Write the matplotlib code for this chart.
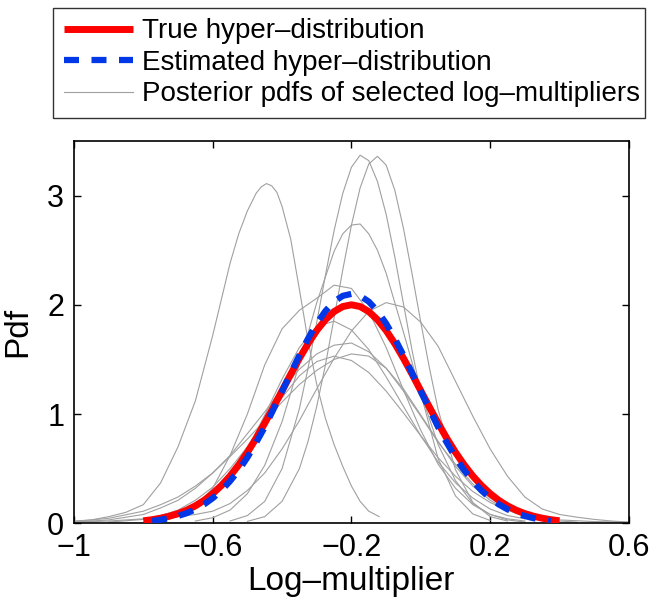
import matplotlib
matplotlib.use("Agg")
import matplotlib.pyplot as plt

plt.rcParams["font.family"] = ["Liberation Sans", "DejaVu Sans"]

# True hyper-distribution
true_x = [-0.8, -0.775, -0.75, -0.725, -0.7, -0.675, -0.65, -0.625, -0.6, -0.575, -0.55,
          -0.525, -0.5, -0.475, -0.45, -0.425, -0.4, -0.375, -0.35, -0.325, -0.3, -0.275,
          -0.25, -0.225, -0.2, -0.175, -0.15, -0.125, -0.1, -0.075, -0.05, -0.025, 0.0,
          0.025, 0.05, 0.075, 0.1, 0.125, 0.15, 0.175, 0.2, 0.225, 0.25, 0.275, 0.3,
          0.325, 0.35, 0.375, 0.4]
true_y = [0.022, 0.032, 0.046, 0.064, 0.088, 0.119, 0.159, 0.209, 0.271, 0.345, 0.432,
          0.534, 0.649, 0.777, 0.916, 1.062, 1.213, 1.364, 1.510, 1.645, 1.765, 1.864,
          1.938, 1.984, 2.0, 1.984, 1.938, 1.864, 1.765, 1.645, 1.510, 1.364, 1.213,
          1.062, 0.916, 0.777, 0.649, 0.534, 0.432, 0.345, 0.271, 0.209, 0.159, 0.119, 0.088,
          0.064, 0.046, 0.032, 0.022]

# Estimated hyper-distribution
est_x = [-0.775, -0.75, -0.725, -0.7, -0.675, -0.65, -0.625, -0.6, -0.575, -0.55, -0.525,
         -0.5, -0.475, -0.45, -0.425, -0.4, -0.375, -0.35, -0.325, -0.3, -0.275, -0.25,
         -0.225, -0.2, -0.175, -0.15, -0.125, -0.1, -0.075, -0.05, -0.025, 0.0, 0.025,
         0.05, 0.075, 0.1, 0.125, 0.15, 0.175, 0.2, 0.225, 0.25, 0.275, 0.3, 0.325, 0.35,
         0.375]
est_y = [0.021, 0.032, 0.046, 0.066, 0.092, 0.127, 0.172, 0.229, 0.299, 0.385, 0.485,
         0.602, 0.737, 0.880, 1.042, 1.207, 1.374, 1.538, 1.691, 1.829, 1.943, 2.029,
         2.082, 2.100, 2.082, 2.029, 1.943, 1.829, 1.691, 1.538, 1.374, 1.207, 1.042,
         0.880, 0.737, 0.602, 0.485, 0.385, 0.299, 0.229, 0.172, 0.127, 0.092, 0.066,
         0.046, 0.032, 0.021]

# Posterior pdfs of selected log-multipliers
post_a_x = [-1.0, -0.95, -0.9, -0.85, -0.8, -0.75, -0.7, -0.65, -0.6, -0.575, -0.55, -0.525,
            -0.5, -0.475, -0.46, -0.445, -0.43, -0.415, -0.4, -0.375, -0.35, -0.325, -0.3,
            -0.275, -0.25, -0.225, -0.2, -0.175, -0.15, -0.12]
post_a_y = [0.02, 0.03, 0.06, 0.10, 0.17, 0.37, 0.70, 1.12, 1.72, 2.05, 2.38, 2.65,
            2.86, 3.02, 3.08, 3.11, 3.09, 3.03, 2.90, 2.60, 2.14, 1.67, 1.27,
            0.96, 0.72, 0.52, 0.34, 0.20, 0.11, 0.06]

post_b_x = [-0.55, -0.5, -0.45, -0.4, -0.35, -0.325, -0.3, -0.275, -0.25, -0.225, -0.2,
            -0.175, -0.15, -0.125, -0.1, -0.075, -0.05, -0.025, 0.0, 0.05, 0.1, 0.15, 0.2]
post_b_y = [0.02, 0.07, 0.20, 0.50, 1.05, 1.42, 1.84, 2.27, 2.68, 3.02, 3.26,
            3.37, 3.32, 3.13, 2.83, 2.44, 2.01, 1.58, 1.19, 0.59, 0.25, 0.085, 0.025]

post_c_x = [-0.5, -0.45, -0.4, -0.35, -0.325, -0.3, -0.275, -0.25, -0.225, -0.2, -0.175,
            -0.15, -0.125, -0.1, -0.075, -0.05, -0.025, 0.0, 0.025, 0.05, 0.1, 0.15, 0.2, 0.25]
post_c_y = [0.017, 0.06, 0.20, 0.50, 0.75, 1.07, 1.45, 1.88, 2.32, 2.73, 3.07,
            3.29, 3.36, 3.28, 3.05, 2.70, 2.28, 1.84, 1.42, 1.04, 0.49, 0.19, 0.06, 0.02]

post_d_x = [-0.65, -0.6, -0.55, -0.5, -0.45, -0.4, -0.35, -0.3, -0.25, -0.225, -0.2,
            -0.175, -0.15, -0.125, -0.1, -0.05, 0.0, 0.05, 0.1, 0.15, 0.2, 0.25, 0.3]
post_d_y = [0.02, 0.05, 0.12, 0.27, 0.53, 0.93, 1.46, 2.02, 2.49, 2.65, 2.73,
            2.74, 2.65, 2.50, 2.29, 1.75, 1.19, 0.72, 0.39, 0.18, 0.08, 0.03, 0.01]

post_e_x = [-0.75, -0.7, -0.65, -0.6, -0.55, -0.5, -0.45, -0.4, -0.35, -0.3, -0.25, -0.2,
            -0.15, -0.1, -0.05, 0.0, 0.05, 0.1, 0.15, 0.2, 0.25, 0.3]
post_e_y = [0.02, 0.06, 0.15, 0.32, 0.62, 1.00, 1.45, 1.78, 1.95, 2.06, 2.18, 2.15,
            1.94, 1.61, 1.22, 0.85, 0.54, 0.32, 0.17, 0.08, 0.04, 0.02]

post_g_x = [-1.0, -0.9, -0.8, -0.7, -0.65, -0.6, -0.55, -0.5, -0.45, -0.4, -0.35, -0.3,
            -0.25, -0.2, -0.15, -0.1, -0.05, 0.0, 0.05, 0.1, 0.15, 0.2, 0.25, 0.3, 0.35,
            0.4, 0.45, 0.5, 0.55, 0.6]
post_g_y = [0.01, 0.02, 0.04, 0.06, 0.08, 0.11, 0.18, 0.30, 0.46, 0.68, 0.94, 1.23,
            1.51, 1.76, 1.94, 2.02, 1.98, 1.84, 1.62, 1.30, 0.98, 0.68, 0.43, 0.24, 0.13,
            0.08, 0.055, 0.035, 0.02, 0.01]

post_h_x = [-1.0, -0.9, -0.8, -0.75, -0.7, -0.65, -0.6, -0.55, -0.5, -0.45, -0.4, -0.35,
            -0.3, -0.25, -0.2, -0.15, -0.1, -0.05, 0.0, 0.05, 0.1, 0.15, 0.2, 0.25, 0.3,
            0.35, 0.4, 0.5, 0.6]
post_h_y = [0.01, 0.03, 0.08, 0.14, 0.21, 0.32, 0.46, 0.62, 0.82, 1.02, 1.23, 1.41,
            1.55, 1.63, 1.65, 1.57, 1.42, 1.21, 0.98, 0.74, 0.54, 0.36, 0.23, 0.14, 0.08,
            0.05, 0.03, 0.015, 0.01]

post_i_x = [-0.9, -0.8, -0.75, -0.7, -0.65, -0.6, -0.55, -0.5, -0.45, -0.4, -0.35, -0.3,
            -0.25, -0.2, -0.15, -0.1, -0.05, 0.0, 0.05, 0.1, 0.15, 0.2, 0.25, 0.3, 0.35,
            0.4, 0.45]
post_i_y = [0.01, 0.035, 0.07, 0.12, 0.21, 0.33, 0.50, 0.70, 0.93, 1.15, 1.35, 1.48,
            1.53, 1.49, 1.38, 1.21, 1.01, 0.80, 0.60, 0.43, 0.29, 0.19, 0.12, 0.07, 0.04,
            0.02, 0.01]

post_j_x = [-1.0, -0.9, -0.8, -0.75, -0.7, -0.65, -0.6, -0.55, -0.5, -0.45, -0.4, -0.35,
            -0.3, -0.25, -0.2, -0.15, -0.1, -0.05, 0.0, 0.05, 0.1, 0.15, 0.2, 0.25, 0.3,
            0.35, 0.4]
post_j_y = [0.015, 0.045, 0.11, 0.17, 0.24, 0.34, 0.46, 0.61, 0.77, 0.94, 1.11, 1.27,
            1.40, 1.50, 1.55, 1.53, 1.42, 1.23, 0.99, 0.75, 0.52, 0.34, 0.21, 0.12, 0.06,
            0.03, 0.015]

post_k_x = [-0.8, -0.75, -0.7, -0.65, -0.6, -0.55, -0.5, -0.45, -0.4, -0.35, -0.3, -0.25,
            -0.2, -0.15, -0.1, -0.05, 0.0, 0.05, 0.1, 0.15, 0.2, 0.25, 0.3]
post_k_y = [0.01, 0.03, 0.065, 0.13, 0.25, 0.43, 0.68, 0.99, 1.32, 1.61, 1.80, 1.85,
            1.77, 1.59, 1.34, 1.07, 0.80, 0.56, 0.37, 0.23, 0.13, 0.07, 0.04]

posteriors = [
    (post_a_x, post_a_y), (post_b_x, post_b_y), (post_c_x, post_c_y),
    (post_d_x, post_d_y), (post_e_x, post_e_y), (post_g_x, post_g_y),
    (post_h_x, post_h_y), (post_i_x, post_i_y), (post_j_x, post_j_y),
    (post_k_x, post_k_y),
]

x_ticks = [-1, -0.6, -0.2, 0.2, 0.6]
x_tick_labels = ["\u22121", "\u22120.6", "\u22120.2", "0.2", "0.6"]
y_ticks = [0, 1, 2, 3]

fig = plt.figure(figsize=(6.49, 6.0), dpi=100)
ax = fig.add_axes([0.114, 0.128, 0.855, 0.637])

gray = "#a0a0a0"
for i, (px, py) in enumerate(posteriors):
    ax.plot(px, py, color=gray, linewidth=0.8,
            label="Posterior pdfs of selected log\u2013multipliers" if i == 0 else None,
            zorder=2)

ax.plot(true_x, true_y, color="#ff0000", linewidth=5, solid_capstyle="butt",
        label="True hyper\u2013distribution", zorder=3)
ax.plot(est_x, est_y, color="#0038e8", linewidth=4.5, dashes=(2.4, 2.0),
        label="Estimated hyper\u2013distribution", zorder=4)

ax.set_xlim(-1, 0.6)
ax.set_ylim(0, 3.5)
ax.set_xticks(x_ticks)
ax.set_xticklabels(x_tick_labels)
ax.set_yticks(y_ticks)
ax.tick_params(direction="in", top=True, right=True, length=5, width=1,
               labelsize=22, pad=7)
for sp in ax.spines.values():
    sp.set_linewidth(1.2)

ax.set_xlabel("Log\u2013multiplier", fontsize=24, labelpad=2)
ax.set_ylabel("Pdf", fontsize=24, labelpad=10)

handles, labels = ax.get_legend_handles_labels()
order = [1, 2, 0]
leg = fig.legend([handles[i] for i in order], [labels[i] for i in order],
                 loc="upper left", bbox_to_anchor=(0.082, 0.805, 0.912, 0.182),
                 mode="expand", fontsize=20, frameon=True, fancybox=False,
                 edgecolor="black", handlelength=2.5, handletextpad=0.3,
                 labelspacing=0.2, borderpad=0.38, borderaxespad=0)
leg.get_frame().set_linewidth(1.0)

fig.savefig("out.png", dpi=100)
